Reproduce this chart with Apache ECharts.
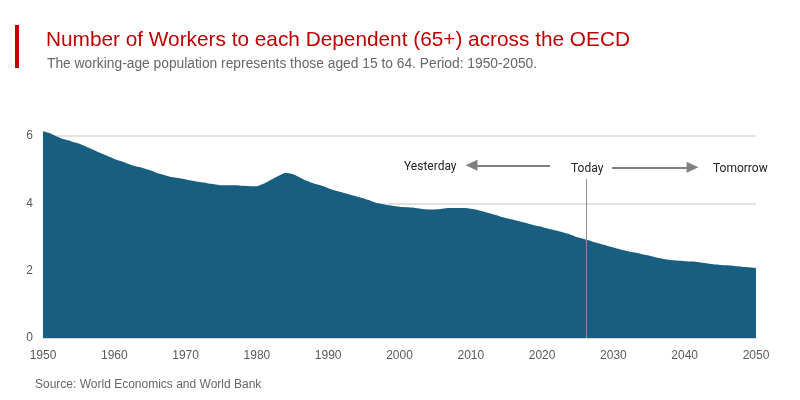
<!DOCTYPE html>
<html>
<head>
<meta charset="utf-8">
<script src="https://cdn.jsdelivr.net/npm/echarts@6/dist/echarts.min.js"></script>
<style>
html,body{margin:0;padding:0;background:#fff;}
#chart{width:800px;height:400px;}
</style>
</head>
<body>
<div id="chart"></div>
<script>
const titleText = 'Number of Workers to each Dependent (65+) across the OECD';
const subtitleText = 'The working-age population represents those aged 15 to 64. Period: 1950-2050.';
const sourceText = 'Source: World Economics and World Bank';

const years = [];
for (let y = 1950; y <= 2050; y++) years.push(y);

const workersPerDependent = [
  6.14, 6.08, 5.98, 5.90, 5.84, 5.78, 5.69, 5.60, 5.50, 5.41,
  5.32, 5.25, 5.17, 5.10, 5.05, 4.98, 4.90, 4.84, 4.78, 4.75,
  4.71, 4.67, 4.63, 4.60, 4.57, 4.54, 4.54, 4.54, 4.52, 4.51,
  4.51, 4.59, 4.70, 4.81, 4.91, 4.87, 4.77, 4.67, 4.59, 4.53,
  4.45, 4.38, 4.32, 4.26, 4.20, 4.14, 4.07, 4.00, 3.96, 3.93,
  3.90, 3.88, 3.87, 3.84, 3.82, 3.82, 3.84, 3.86, 3.86, 3.86,
  3.84, 3.80, 3.74, 3.68, 3.62, 3.56, 3.51, 3.45, 3.40, 3.34,
  3.30, 3.24, 3.19, 3.13, 3.07, 2.99, 2.93, 2.87, 2.81, 2.75,
  2.69, 2.63, 2.58, 2.54, 2.49, 2.45, 2.39, 2.35, 2.32, 2.30,
  2.28, 2.27, 2.25, 2.22, 2.19, 2.17, 2.16, 2.14, 2.12, 2.10,
  2.08
];

const todayYear = 2026.2;
const annotationLabels = ['Yesterday', 'Today', 'Tomorrow'];

const seriesData = years.map((y, i) => [y, workersPerDependent[i]]);

const chart = echarts.init(document.getElementById('chart'));
const axisFont = "'Liberation Sans Narrow', 'Liberation Sans', Arial, sans-serif";
const noteFont = "Roboto, 'Liberation Sans', sans-serif";

chart.setOption({
  animation: false,
  grid: { left: 43, right: 44, top: 136, bottom: 62, containLabel: false },
  xAxis: {
    type: 'value', min: 1950, max: 2050, interval: 10,
    axisLine: { show: true, lineStyle: { color: '#d9d9d9', width: 2 } },
    axisTick: { show: false },
    splitLine: { show: false },
    axisLabel: { color: '#595959', fontSize: 12, fontFamily: axisFont, margin: 12, formatter: v => String(v) }
  },
  yAxis: {
    type: 'value', min: 0, max: 6, interval: 2,
    axisLine: { show: false },
    axisTick: { show: false },
    splitLine: { show: true, lineStyle: { color: '#d9d9d9', width: 1.5 } },
    axisLabel: { color: '#595959', fontSize: 12, fontFamily: "'Liberation Sans', Arial, sans-serif", margin: 10, padding: [3, 0, 0, 0] }
  },
  series: [{
    type: 'line',
    data: seriesData,
    clip: false,
    smooth: 0.2,
    showSymbol: false,
    lineStyle: { width: 0 },
    areaStyle: { color: '#175e80', opacity: 1 },
    z: 2,
    markLine: {
      silent: true,
      symbol: 'none',
      label: { show: false },
      z: 5,
      data: [
        [
          { coord: [todayYear, 4.72], symbol: 'none', lineStyle: { color: '#8c8c8c', width: 1, type: 'solid' } },
          { coord: [todayYear, 0], symbol: 'none' }
        ],
        [
          { coord: [2021.1, 5.13], symbol: 'none', lineStyle: { color: '#808080', width: 2, type: 'solid' } },
          { coord: [2010.1, 5.13], symbol: 'triangle', symbolSize: [11, 12] }
        ],
        [
          { coord: [2029.8, 5.07], symbol: 'none', lineStyle: { color: '#808080', width: 2, type: 'solid' } },
          { coord: [2041.1, 5.07], symbol: 'triangle', symbolSize: [11, 12] }
        ]
      ]
    }
  }],
  graphic: [
    { type: 'rect', left: 15, top: 25, shape: { width: 4, height: 43 }, style: { fill: '#c00000' } },
    { type: 'text', left: 46, top: 30, style: { text: titleText, fill: '#c00000', font: "20.8px 'Liberation Sans', Arial, sans-serif" } },
    { type: 'text', left: 47, top: 57, style: { text: subtitleText, fill: '#666666', font: "13.8px 'Liberation Sans', Arial, sans-serif" } },
    { type: 'text', left: 35, top: 379, style: { text: sourceText, fill: '#666666', font: "12px 'Liberation Sans', Arial, sans-serif" } },
    { type: 'text', left: 404, top: 161, style: { text: annotationLabels[0], fill: '#222222', font: "12px " + noteFont } },
    { type: 'text', left: 571, top: 163, style: { text: annotationLabels[1], fill: '#222222', font: "12px " + noteFont } },
    { type: 'text', left: 713, top: 163, style: { text: annotationLabels[2], fill: '#222222', font: "12px " + noteFont } }
  ]
});
</script>
</body>
</html>
